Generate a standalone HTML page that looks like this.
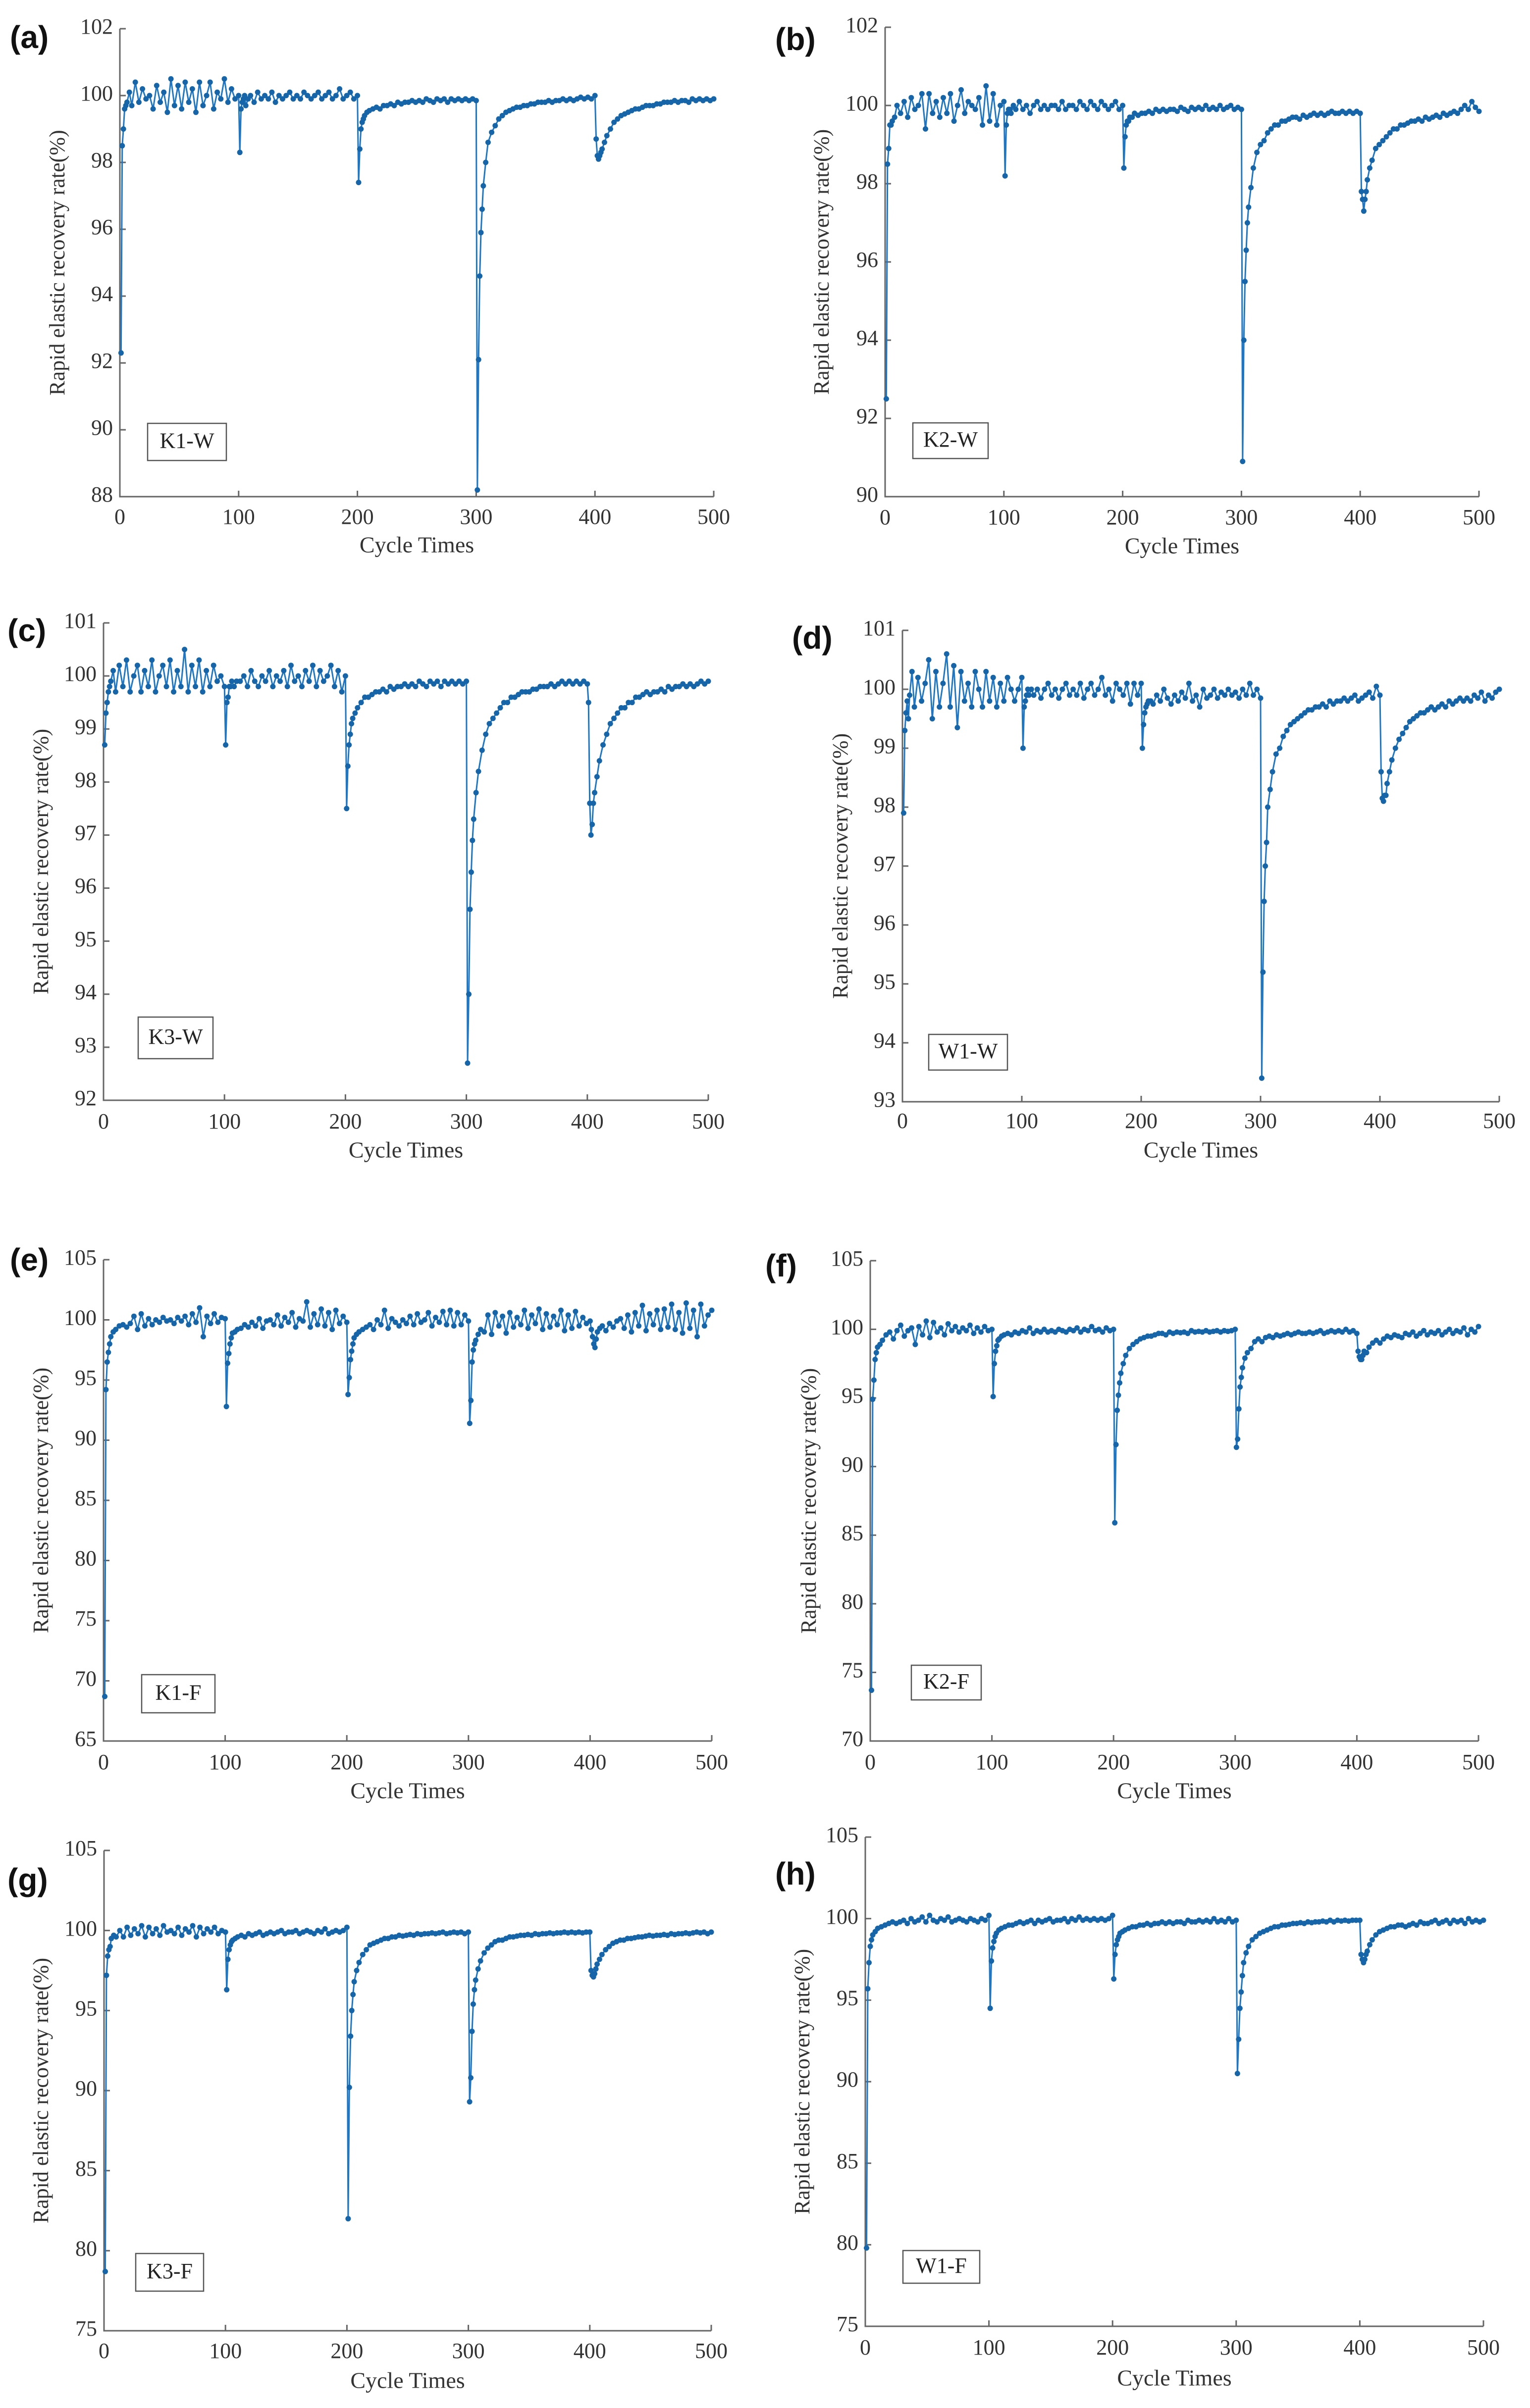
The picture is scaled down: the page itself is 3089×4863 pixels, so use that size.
<!DOCTYPE html>
<html><head><meta charset="utf-8">
<style>
html,body{margin:0;padding:0;background:#fff;}
svg{display:block;}
</style></head>
<body>
<svg id="fig" width="3089" height="4863" viewBox="0 0 3089 4863" xmlns="http://www.w3.org/2000/svg"></svg>
<script>
// shared cycle offsets within each 100-cycle segment
const segOffsets = [1,2,3,4,5,6,8,10,13,16,19,22,25,28,31,34,37,40,43,46,49,52,55,58,61,64,67,70,73,76,79,82,85,88,91,94,97,100];
const xTicks = [0,100,200,300,400,500];

const K1W = [
[92.3,98.5,99.0,99.6,99.7,99.8,100.1,99.7,100.4,99.8,100.2,99.9,100.0,99.6,100.3,99.8,100.1,99.5,100.5,99.7,100.3,99.6,100.4,99.8,100.2,99.5,100.4,99.7,100.0,100.4,99.6,100.1,99.9,100.5,99.8,100.2,99.9,100.0],
[98.3,99.6,99.8,99.9,100.0,99.7,99.9,100.0,99.8,100.1,99.9,100.0,99.9,100.1,99.8,100.0,99.9,100.0,100.1,99.9,100.0,99.9,100.1,100.0,99.9,100.0,100.1,99.9,100.0,100.1,99.9,100.0,100.2,99.9,100.0,100.1,99.9,100.0],
[97.4,98.4,99.0,99.2,99.3,99.4,99.5,99.55,99.6,99.65,99.6,99.7,99.7,99.75,99.7,99.8,99.75,99.8,99.8,99.85,99.8,99.85,99.8,99.9,99.85,99.8,99.9,99.85,99.9,99.8,99.9,99.85,99.9,99.85,99.9,99.85,99.9,99.85],
[88.2,92.1,94.6,95.9,96.6,97.3,98.0,98.6,98.9,99.1,99.3,99.4,99.5,99.55,99.6,99.65,99.65,99.7,99.7,99.75,99.75,99.8,99.8,99.8,99.85,99.8,99.85,99.85,99.9,99.85,99.9,99.85,99.9,99.95,99.9,99.95,99.9,100.0],
[98.7,98.2,98.1,98.2,98.3,98.4,98.6,98.8,99.0,99.2,99.3,99.4,99.45,99.5,99.55,99.6,99.6,99.65,99.7,99.7,99.7,99.75,99.75,99.8,99.8,99.8,99.85,99.8,99.85,99.85,99.8,99.9,99.85,99.9,99.85,99.9,99.85,99.9]];
const K2W = [
[92.5,98.5,98.9,99.5,99.5,99.6,99.7,100.0,99.8,100.1,99.7,100.2,99.9,100.0,100.3,99.4,100.3,99.8,100.1,99.7,100.2,99.8,100.3,99.6,100.0,100.4,99.8,100.1,100.0,99.9,100.2,99.5,100.5,99.6,100.3,99.5,100.0,100.1],
[98.2,99.5,99.8,99.9,99.9,99.8,100.0,99.9,100.1,99.9,100.0,99.8,100.0,100.1,99.9,100.0,99.9,100.0,100.0,99.9,100.1,99.9,100.0,100.0,99.9,100.1,100.0,99.9,100.1,100.0,99.9,100.1,100.0,99.9,100.0,100.1,99.9,100.0],
[98.4,99.2,99.5,99.6,99.6,99.7,99.7,99.8,99.75,99.8,99.8,99.85,99.8,99.9,99.85,99.9,99.85,99.9,99.9,99.85,99.95,99.9,99.85,99.95,99.9,99.95,99.9,100.0,99.9,99.95,99.9,100.0,99.9,99.95,100.0,99.9,99.95,99.9],
[90.9,94.0,95.5,96.3,97.0,97.4,97.9,98.4,98.8,99.0,99.1,99.3,99.4,99.5,99.5,99.6,99.6,99.65,99.7,99.7,99.65,99.75,99.7,99.75,99.8,99.75,99.8,99.75,99.8,99.85,99.8,99.8,99.85,99.8,99.85,99.8,99.85,99.8],
[97.8,97.6,97.3,97.6,97.8,98.1,98.4,98.6,98.9,99.0,99.1,99.2,99.3,99.4,99.4,99.5,99.5,99.55,99.6,99.6,99.65,99.6,99.7,99.65,99.7,99.75,99.7,99.8,99.75,99.8,99.85,99.8,99.9,100.0,99.9,100.1,99.95,99.85]];
const K3W = [
[98.7,99.3,99.5,99.7,99.8,99.9,100.1,99.7,100.2,99.8,100.3,99.7,100.0,100.2,99.7,100.1,99.8,100.3,99.7,100.0,100.2,99.8,100.3,99.7,100.1,99.8,100.5,99.7,100.2,99.8,100.3,99.7,100.1,99.8,100.2,99.9,100.0,99.8],
[98.7,99.5,99.6,99.8,99.8,99.9,99.8,99.9,99.9,100.0,99.8,100.1,99.9,99.8,100.0,99.9,100.1,99.8,100.0,99.9,100.1,99.8,100.2,99.9,100.0,99.8,100.1,99.9,100.2,99.8,100.1,99.9,100.0,100.2,99.8,100.1,99.7,100.0],
[97.5,98.3,98.7,98.9,99.1,99.2,99.3,99.4,99.5,99.6,99.6,99.65,99.7,99.7,99.75,99.7,99.8,99.75,99.8,99.8,99.85,99.8,99.85,99.8,99.9,99.85,99.8,99.9,99.85,99.9,99.8,99.9,99.85,99.9,99.85,99.9,99.85,99.9],
[92.7,94.0,95.6,96.3,96.9,97.3,97.8,98.2,98.6,98.9,99.1,99.2,99.3,99.4,99.5,99.5,99.6,99.6,99.65,99.7,99.7,99.7,99.75,99.75,99.8,99.8,99.8,99.85,99.8,99.85,99.9,99.85,99.9,99.85,99.9,99.85,99.9,99.85],
[99.5,97.6,97.0,97.2,97.6,97.8,98.1,98.4,98.7,98.9,99.1,99.2,99.3,99.4,99.4,99.5,99.5,99.6,99.6,99.65,99.7,99.65,99.7,99.7,99.75,99.7,99.8,99.75,99.8,99.8,99.85,99.8,99.85,99.8,99.85,99.9,99.85,99.9]];
const W1W = [
[97.9,99.3,99.6,99.8,99.5,99.9,100.3,99.7,100.2,99.8,100.1,100.5,99.5,100.3,99.7,100.1,100.6,99.7,100.4,99.35,100.3,99.8,100.1,99.7,100.3,100.0,99.7,100.3,99.8,100.2,99.7,100.1,99.8,100.2,100.0,99.8,100.0,100.2],
[99.0,99.7,99.8,99.9,100.0,99.9,100.0,99.9,100.0,99.85,100.0,100.1,99.9,100.0,99.85,100.0,100.1,99.9,100.0,99.9,100.1,99.85,100.0,100.1,99.9,100.0,100.2,99.9,100.0,99.8,100.1,100.0,99.9,100.1,99.75,100.1,99.9,100.1],
[99.0,99.4,99.6,99.7,99.75,99.8,99.8,99.75,99.9,99.8,100.0,99.85,99.75,99.9,99.8,99.95,99.85,100.1,99.8,99.9,99.7,100.0,99.85,99.9,100.0,99.85,99.95,99.9,100.0,99.9,99.95,99.85,100.0,99.9,100.1,99.9,100.0,99.85],
[93.4,95.2,96.4,97.0,97.4,98.0,98.3,98.6,98.9,99.0,99.2,99.3,99.4,99.45,99.5,99.55,99.6,99.65,99.65,99.7,99.7,99.75,99.7,99.8,99.75,99.8,99.8,99.85,99.8,99.85,99.9,99.8,99.85,99.9,99.95,99.85,100.05,99.9],
[98.6,98.15,98.1,98.2,98.2,98.4,98.6,98.8,99.0,99.15,99.25,99.35,99.45,99.5,99.55,99.6,99.6,99.65,99.7,99.65,99.7,99.75,99.7,99.8,99.75,99.8,99.85,99.8,99.85,99.8,99.9,99.85,99.95,99.8,99.9,99.85,99.95,100.0]];
const K1F = [
[68.7,94.2,96.5,97.3,98.0,98.6,99.0,99.2,99.5,99.6,99.4,99.7,100.3,99.2,100.5,99.5,100.1,99.6,100.0,99.8,100.2,99.9,100.0,99.7,100.2,99.9,100.3,99.6,100.5,99.8,101.0,98.6,100.3,99.7,100.5,99.8,100.2,100.1],
[92.8,96.4,97.2,98.0,98.5,98.9,99.0,99.2,99.3,99.6,99.4,99.8,99.5,100.1,99.3,99.9,100.0,99.6,100.4,99.5,100.2,99.8,100.6,99.4,100.1,99.9,101.5,99.4,100.5,99.6,100.9,99.5,100.6,99.2,100.8,99.7,100.3,99.8],
[93.8,95.2,96.7,97.4,98.0,98.5,98.8,99.0,99.2,99.4,99.6,99.2,100.0,99.6,100.8,99.3,100.1,99.8,99.5,100.0,99.7,100.3,99.6,100.5,99.8,100.0,100.6,99.5,100.2,99.8,100.7,99.6,100.8,99.5,100.6,99.6,100.4,99.9],
[91.4,93.3,96.5,97.5,98.0,98.3,98.8,99.2,99.0,100.4,98.8,100.6,99.5,100.3,98.9,100.6,99.4,100.2,99.6,100.8,99.3,100.4,99.7,100.9,99.2,100.5,99.4,100.3,99.6,100.8,99.1,100.4,99.3,100.7,99.5,100.2,99.7,99.9],
[99.2,98.6,98.0,97.7,98.4,99.0,99.3,99.5,99.1,99.7,99.4,99.9,100.1,99.3,100.4,99.0,100.6,99.5,101.2,99.1,100.5,99.6,100.8,99.2,100.9,99.4,101.3,99.2,100.6,98.9,101.4,99.3,100.8,98.6,101.3,99.5,100.4,100.8]];
const K2F = [
[73.7,94.9,96.3,97.8,98.3,98.7,98.9,99.2,99.6,99.8,99.3,99.9,100.3,99.5,99.9,100.1,98.9,100.2,99.6,100.6,99.4,100.5,99.8,100.1,99.6,100.4,99.9,100.2,99.8,100.1,99.9,100.3,99.7,100.1,99.8,100.2,99.9,100.0],
[95.1,97.5,98.4,98.8,99.2,99.3,99.5,99.6,99.7,99.6,99.8,99.7,99.9,99.8,100.1,99.7,99.9,99.8,100.0,99.8,99.9,99.8,100.0,99.9,99.8,100.0,99.9,100.1,99.8,100.0,99.9,100.2,99.9,100.0,99.8,100.1,99.9,100.0],
[85.9,91.6,94.1,95.2,96.1,96.8,97.5,98.1,98.6,98.9,99.1,99.3,99.4,99.5,99.5,99.6,99.7,99.7,99.6,99.8,99.7,99.8,99.75,99.8,99.7,99.9,99.8,99.85,99.8,99.9,99.8,99.85,99.9,99.8,99.9,99.85,99.9,100.0],
[91.4,92.0,94.2,95.8,96.5,97.2,97.9,98.3,98.6,99.1,99.3,99.1,99.4,99.5,99.4,99.6,99.5,99.6,99.7,99.6,99.7,99.8,99.7,99.7,99.8,99.7,99.8,99.9,99.7,99.8,99.9,99.8,99.9,99.8,100.0,99.8,99.9,99.7],
[98.4,98.0,97.8,97.8,98.1,98.4,98.3,98.7,99.0,99.2,99.0,99.3,99.5,99.4,99.6,99.5,99.4,99.7,99.6,99.8,99.5,99.7,99.9,99.6,99.8,99.7,99.9,99.6,99.8,100.0,99.7,99.9,99.8,100.1,99.6,100.0,99.8,100.2]];
const K3F = [
[78.7,97.2,98.4,98.8,99.0,99.5,99.7,99.6,100.0,99.6,100.2,99.7,100.1,99.8,100.3,99.6,100.2,99.8,100.1,99.7,100.3,99.9,100.0,99.8,100.2,99.7,100.1,99.9,100.3,99.6,100.2,99.8,100.1,99.9,100.2,99.8,100.0,99.9],
[96.3,98.2,98.8,99.1,99.3,99.4,99.5,99.6,99.7,99.6,99.8,99.7,99.8,99.9,99.7,99.8,99.9,99.8,99.9,100.0,99.8,99.9,99.9,100.0,99.8,99.9,100.0,99.9,99.8,100.0,99.9,100.1,99.8,99.9,100.0,99.9,100.0,100.2],
[82.0,90.2,93.4,95.0,96.0,96.8,97.5,98.0,98.5,98.8,99.1,99.2,99.3,99.4,99.5,99.5,99.6,99.6,99.7,99.65,99.7,99.75,99.7,99.8,99.75,99.8,99.8,99.85,99.8,99.85,99.9,99.8,99.85,99.9,99.85,99.9,99.8,99.9],
[89.3,90.8,93.7,95.4,96.3,96.9,97.6,98.1,98.6,98.9,99.1,99.3,99.4,99.4,99.5,99.6,99.6,99.65,99.7,99.7,99.75,99.7,99.8,99.75,99.8,99.8,99.85,99.8,99.85,99.85,99.9,99.85,99.9,99.85,99.9,99.85,99.9,99.9],
[97.5,97.2,97.1,97.3,97.6,97.9,98.2,98.5,98.8,99.0,99.2,99.3,99.4,99.4,99.5,99.5,99.55,99.6,99.6,99.65,99.7,99.65,99.7,99.7,99.75,99.7,99.8,99.75,99.8,99.8,99.85,99.8,99.85,99.9,99.85,99.9,99.8,99.9]];
const W1F = [
[79.8,95.7,97.3,98.3,98.7,99.0,99.2,99.4,99.5,99.6,99.7,99.8,99.7,99.8,99.9,99.7,100.0,99.8,99.9,100.1,99.8,100.2,99.9,99.8,100.0,99.9,100.1,99.8,99.9,100.0,99.9,99.8,100.0,99.9,99.8,100.0,99.9,100.2],
[94.5,97.4,98.2,98.6,98.9,99.1,99.3,99.4,99.5,99.6,99.6,99.7,99.8,99.7,99.8,99.9,99.7,99.9,99.8,99.9,100.0,99.8,99.9,99.9,100.0,99.8,100.0,99.9,100.1,99.9,100.0,99.9,100.0,99.9,100.0,99.9,100.0,100.2],
[96.3,97.8,98.4,98.7,98.9,99.1,99.2,99.3,99.4,99.5,99.5,99.6,99.6,99.7,99.6,99.7,99.7,99.8,99.7,99.8,99.7,99.8,99.8,99.7,99.9,99.8,99.8,99.9,99.8,99.9,99.8,100.0,99.8,99.9,99.8,100.0,99.8,99.9],
[90.5,92.6,94.5,95.5,96.5,97.3,97.9,98.3,98.7,98.9,99.1,99.2,99.3,99.4,99.5,99.5,99.6,99.6,99.65,99.7,99.7,99.75,99.7,99.8,99.75,99.8,99.8,99.85,99.8,99.9,99.8,99.9,99.85,99.9,99.85,99.9,99.9,99.9],
[97.8,97.5,97.3,97.5,97.8,98.0,98.4,98.7,99.0,99.2,99.3,99.4,99.5,99.5,99.6,99.6,99.5,99.6,99.7,99.6,99.8,99.7,99.7,99.8,99.9,99.7,99.8,99.9,99.7,99.9,99.8,99.9,99.7,100.0,99.8,99.9,99.8,99.9]];

const panels = [
 {id:'a',name:'K1-W',data:K1W,yMin:88,yMax:102,yStep:2,x0:242,x1:1441,yt:58,yb:1003,lx:20,ly:80,box:[298,855,457,930],xtY:1048,ctY:1105,ylX:120},
 {id:'b',name:'K2-W',data:K2W,yMin:90,yMax:102,yStep:2,x0:1787,x1:2986,yt:55,yb:1003,lx:1565,ly:84,box:[1843,854,1995,926],xtY:1049,ctY:1107,ylX:1663},
 {id:'c',name:'K3-W',data:K3W,yMin:92,yMax:101,yStep:1,x0:209,x1:1430,yt:1258,yb:2222,lx:15,ly:1278,box:[279,2054,430,2138],xtY:2269,ctY:2327,ylX:87},
 {id:'d',name:'W1-W',data:W1W,yMin:93,yMax:101,yStep:1,x0:1822,x1:3027,yt:1273,yb:2225,lx:1599,ly:1293,box:[1875,2089,2034,2161],xtY:2268,ctY:2327,ylX:1701},
 {id:'e',name:'K1-F',data:K1F,yMin:65,yMax:105,yStep:5,x0:209,x1:1437,yt:2544,yb:3516,lx:20,ly:2549,box:[286,3382,434,3459],xtY:3563,ctY:3621,ylX:87},
 {id:'f',name:'K2-F',data:K2F,yMin:70,yMax:105,yStep:5,x0:1757,x1:2985,yt:2546,yb:3516,lx:1545,ly:2561,box:[1840,3363,1981,3433],xtY:3563,ctY:3621,ylX:1637},
 {id:'g',name:'K3-F',data:K3F,yMin:75,yMax:105,yStep:5,x0:210,x1:1436,yt:3737,yb:4707,lx:15,ly:3801,box:[274,4551,411,4627],xtY:4752,ctY:4812,ylX:87},
 {id:'h',name:'W1-F',data:W1F,yMin:75,yMax:105,yStep:5,x0:1747,x1:2995,yt:3710,yb:4698,lx:1565,ly:3789,box:[1823,4545,1978,4611],xtY:4745,ctY:4807,ylX:1624}
];

const NS='http://www.w3.org/2000/svg';
const svg=document.getElementById('fig');
function mk(tag,attrs,parent){const e=document.createElementNS(NS,tag);for(const k in attrs)e.setAttribute(k,attrs[k]);(parent||svg).appendChild(e);return e;}
const SERIF='"Liberation Serif", serif';
const COLOR='#1f77c4';

panels.forEach(p=>{
  const g=mk('g',{});
  
  
  const xs=v=>p.x0+(v-0)/(500-0)*(p.x1-p.x0);
  const ys=v=>p.yb-(v-p.yMin)/(p.yMax-p.yMin)*(p.yb-p.yt);
  // axes
  const ax=mk('path',{d:`M${p.x0},${p.yt}L${p.x0},${p.yb}L${p.x1},${p.yb}`,fill:'none',stroke:'#666','stroke-width':3},g);
  
  
  // x ticks
  xTicks.forEach(t=>{
    const x=xs(t);
    mk('line',{x1:x,y1:p.yb,x2:x,y2:p.yb-12,stroke:'#666','stroke-width':3},g);
    const tx=mk('text',{x:x,y:p.xtY,'text-anchor':'middle','dominant-baseline':'middle','font-family':SERIF,'font-size':44,fill:'#333'},g);
    tx.textContent=t;
    
    
  });
  // y ticks
  for(let v=p.yMin;v<=p.yMax+1e-9;v+=p.yStep){
    const y=ys(v);
    mk('line',{x1:p.x0,y1:y,x2:p.x0+12,y2:y,stroke:'#666','stroke-width':3},g);
    const ty=mk('text',{x:p.x0-14,y:y,'text-anchor':'end','dominant-baseline':'middle','font-family':SERIF,'font-size':44,fill:'#333'},g);
    ty.textContent=v;
    
    
  }
  // axis titles
  const ct=mk('text',{x:(p.x0+p.x1)/2,y:p.ctY,'text-anchor':'middle','dominant-baseline':'middle','font-family':SERIF,'font-size':46,fill:'#333'},g);
  ct.textContent='Cycle Times';
  
  
  const cy=(p.yt+p.yb)/2;
  const yl=mk('text',{x:p.ylX,y:cy,transform:`rotate(-90 ${p.ylX} ${cy})`,'text-anchor':'middle','dominant-baseline':'middle','font-family':SERIF,'font-size':44,fill:'#333'},g);
  yl.textContent='Rapid elastic recovery rate(%)';
  
  
  // panel letter
  const pl=mk('text',{x:p.lx,y:p.ly,'dominant-baseline':'middle','font-family':'"Liberation Sans", sans-serif','font-size':64,'font-weight':'bold',fill:'#111'},g);
  pl.textContent='('+p.id+')';
  
  
  // sample box
  const b=p.box;
  const br=mk('rect',{x:b[0],y:b[1],width:b[2]-b[0],height:b[3]-b[1],fill:'#fff',stroke:'#555','stroke-width':2.5},g);
  
  
  const bt=mk('text',{x:(b[0]+b[2])/2,y:(b[1]+b[3])/2+2,'text-anchor':'middle','dominant-baseline':'middle','font-family':SERIF,'font-size':44,fill:'#222'},g);
  bt.textContent=p.name;
  
  
  // series
  const pts=[];
  p.data.forEach((seg,s)=>{
    seg.forEach((v,i)=>{ if(i<segOffsets.length) pts.push([xs(s*100+segOffsets[i]),ys(v)]); });
  });
  const line=mk('polyline',{points:pts.map(q=>q[0].toFixed(1)+','+q[1].toFixed(1)).join(' '),fill:'none',stroke:COLOR,'stroke-width':3,'stroke-linejoin':'round'},g);
  
  
  pts.forEach(q=>{
    const c=mk('circle',{cx:q[0].toFixed(1),cy:q[1].toFixed(1),r:5.5,fill:'#1565a8'},g);
    
    
  });
});
</script>
</body></html>
